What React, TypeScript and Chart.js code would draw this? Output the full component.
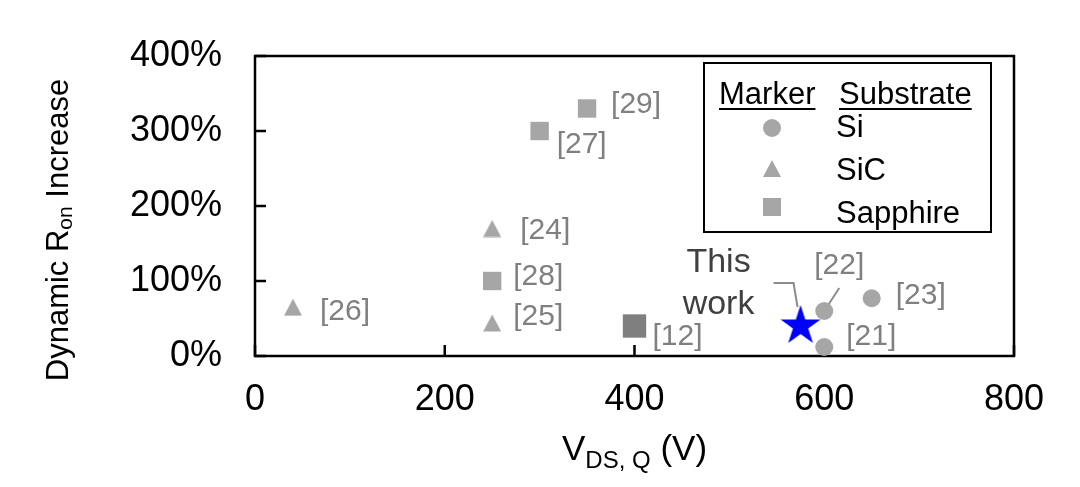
import { useEffect, useRef } from "react";
import Chart from "chart.js/auto";

// Si substrate (circles)
const siVoltage = [600, 600, 650];
const siIncrease = [60, 12, 77];
const siRefs = ["[22]", "[21]", "[23]"];

// SiC substrate (triangles)
const sicVoltage = [40, 250, 250];
const sicIncrease = [65, 170, 44];
const sicRefs = ["[26]", "[24]", "[25]"];

// Sapphire substrate (squares)
const sapphireVoltage = [250, 300, 350];
const sapphireIncrease = [100, 300, 330];
const sapphireRefs = ["[28]", "[27]", "[29]"];

// ref [12], darker square
const ref12Voltage = [400];
const ref12Increase = [40];
const ref12Refs = ["[12]"];

// this work (star)
const thisWorkVoltage = [575];
const thisWorkIncrease = [40];

const xTicks = [0, 200, 400, 600, 800];
const yTicks = [0, 100, 200, 300, 400];

const FONT = '"Liberation Sans", Arial, sans-serif';
const LABEL_GREY = "#808080";
const MARK_GREY = "#a6a6a6";

// where each reference label sits, in px from its marker
const labelOffsets: Record<string, [number, number]> = {
  "[26]": [27, 4],
  "[24]": [28, 2],
  "[25]": [21, -6],
  "[28]": [21, -4],
  "[27]": [17, 14],
  "[29]": [24, -4],
  "[12]": [18, 11],
  "[22]": [-10, -45],
  "[21]": [22, -10],
  "[23]": [24, -3],
};

const toPoints = (xs: number[], ys: number[]) => xs.map((x, i) => ({ x, y: ys[i] }));

const makeStar = () => {
  const c = document.createElement("canvas");
  c.width = 44;
  c.height = 44;
  const ctx = c.getContext("2d")!;
  const R = 21;
  const r = R * 0.382;
  ctx.beginPath();
  for (let i = 0; i < 10; i++) {
    const rad = (Math.PI / 5) * i - Math.PI / 2;
    const len = i % 2 === 0 ? R : r;
    const px = 22 + Math.cos(rad) * len;
    const py = 22 + Math.sin(rad) * len;
    if (i === 0) ctx.moveTo(px, py);
    else ctx.lineTo(px, py);
  }
  ctx.closePath();
  ctx.fillStyle = "#0000ff";
  ctx.fill();
  return c;
};

// triangle marker centred on its bounding box
const makeTriangle = () => {
  const c = document.createElement("canvas");
  c.width = 18;
  c.height = 18;
  const ctx = c.getContext("2d")!;
  ctx.beginPath();
  ctx.moveTo(9, 0.5);
  ctx.lineTo(18, 17.5);
  ctx.lineTo(0, 17.5);
  ctx.closePath();
  ctx.fillStyle = MARK_GREY;
  ctx.fill();
  return c;
};

const framePlugin = {
  id: "frame",
  beforeDatasetsDraw(chart: any) {
    const { ctx, chartArea: a, scales } = chart;
    ctx.save();
    ctx.strokeStyle = "#000";
    ctx.lineWidth = 2.5;
    ctx.strokeRect(a.left, a.top, a.right - a.left, a.bottom - a.top);
    // inward ticks
    ctx.beginPath();
    xTicks.forEach((v) => {
      const px = scales.x.getPixelForValue(v);
      ctx.moveTo(px, a.bottom);
      ctx.lineTo(px, a.bottom - 11);
    });
    yTicks.forEach((v) => {
      const py = scales.y.getPixelForValue(v);
      ctx.moveTo(a.left, py);
      ctx.lineTo(a.left + 11, py);
    });
    ctx.stroke();

    // leader lines
    ctx.strokeStyle = "#8c8c8c";
    ctx.lineWidth = 2;
    const starEl = chart.getDatasetMeta(4).data[0];
    ctx.beginPath();
    ctx.moveTo(starEl.x - 27, starEl.y - 43);
    ctx.lineTo(starEl.x - 7, starEl.y - 43);
    ctx.lineTo(starEl.x - 3, starEl.y - 19);
    ctx.stroke();
    const p22 = chart.getDatasetMeta(0).data[0];
    ctx.beginPath();
    ctx.moveTo(p22.x + 15, p22.y - 23);
    ctx.lineTo(p22.x + 2, p22.y - 3);
    ctx.stroke();
    ctx.restore();
  },
  afterDatasetsDraw(chart: any) {
    const { ctx, chartArea: a } = chart;
    ctx.save();

    // reference labels
    ctx.font = `30px ${FONT}`;
    ctx.fillStyle = LABEL_GREY;
    ctx.textAlign = "left";
    ctx.textBaseline = "middle";
    chart.data.datasets.forEach((ds: any, di: number) => {
      if (!ds.refs) return;
      const meta = chart.getDatasetMeta(di);
      ds.refs.forEach((ref: string, i: number) => {
        const el = meta.data[i];
        const [dx, dy] = labelOffsets[ref] || [20, 0];
        ctx.fillText(ref, el.x + dx, el.y + dy);
      });
    });

    // "This work"
    const starEl = chart.getDatasetMeta(4).data[0];
    ctx.font = `34px ${FONT}`;
    ctx.fillStyle = "#404040";
    ctx.textAlign = "center";
    ctx.fillText("This", starEl.x - 82, starEl.y - 63);
    ctx.fillText("work", starEl.x - 82, starEl.y - 21);

    // y axis title
    ctx.fillStyle = "#000";
    ctx.textAlign = "left";
    ctx.textBaseline = "alphabetic";
    const yParts: [string, number, number][] = [
      ["Dynamic R", 31, 0],
      ["on", 21, 4],
      [" Increase", 31, 0],
    ];
    ctx.save();
    ctx.translate(a.left - 187, a.top + 174);
    ctx.rotate(-Math.PI / 2);
    let total = 0;
    yParts.forEach(([t, s]) => {
      ctx.font = `${s}px ${FONT}`;
      total += ctx.measureText(t).width;
    });
    let cx = -total / 2;
    yParts.forEach(([t, s, off]) => {
      ctx.font = `${s}px ${FONT}`;
      ctx.fillText(t, cx, off);
      cx += ctx.measureText(t).width;
    });
    ctx.restore();

    // x axis title
    const xParts: [string, number, number][] = [
      ["V", 35, 0],
      ["DS, Q", 24, 8],
      [" (V)", 35, 0],
    ];
    total = 0;
    xParts.forEach(([t, s]) => {
      ctx.font = `${s}px ${FONT}`;
      total += ctx.measureText(t).width;
    });
    cx = (a.left + a.right) / 2 - total / 2;
    const base = a.bottom + 104;
    xParts.forEach(([t, s, off]) => {
      ctx.font = `${s}px ${FONT}`;
      ctx.fillText(t, cx, base + off);
      cx += ctx.measureText(t).width;
    });

    // legend box
    const lx = a.left + 449;
    const ly = a.top + 7;
    ctx.fillStyle = "#fff";
    ctx.fillRect(lx, ly, 287, 169);
    ctx.strokeStyle = "#000";
    ctx.lineWidth = 2;
    ctx.strokeRect(lx, ly, 287, 169);

    ctx.fillStyle = "#000";
    ctx.font = `31px ${FONT}`;
    ctx.fillText("Marker", lx + 15, ly + 41);
    ctx.fillText("Substrate", lx + 135, ly + 41);
    const w1 = ctx.measureText("Marker").width;
    const w2 = ctx.measureText("Substrate").width;
    ctx.fillRect(lx + 15, ly + 45, w1, 2);
    ctx.fillRect(lx + 135, ly + 45, w2, 2);
    ctx.fillText("Si", lx + 132, ly + 74);
    ctx.fillText("SiC", lx + 132, ly + 117);
    ctx.fillText("Sapphire", lx + 132, ly + 160);

    ctx.fillStyle = MARK_GREY;
    const mx = lx + 68;
    ctx.beginPath();
    ctx.arc(mx, ly + 65, 9, 0, Math.PI * 2);
    ctx.fill();
    ctx.beginPath();
    ctx.moveTo(mx, ly + 97);
    ctx.lineTo(mx + 9, ly + 114);
    ctx.lineTo(mx - 9, ly + 114);
    ctx.closePath();
    ctx.fill();
    ctx.fillRect(mx - 9, ly + 135, 18, 18);

    ctx.restore();
  },
};

const App = () => {
  const chartRef = useRef<HTMLCanvasElement | null>(null);

  useEffect(() => {
    document.body.style.margin = "0";
    if (!chartRef.current) return;

    const star = makeStar();
    const triangle = makeTriangle();

    const chart = new Chart(chartRef.current, {
      type: "scatter",
      data: {
        datasets: [
          {
            label: "Si",
            data: toPoints(siVoltage, siIncrease),
            refs: siRefs,
            pointStyle: "circle",
            pointRadius: 9,
            backgroundColor: MARK_GREY,
            borderWidth: 0,
            clip: false,
          } as any,
          {
            label: "SiC",
            data: toPoints(sicVoltage, sicIncrease),
            refs: sicRefs,
            pointStyle: triangle,
            pointRadius: 9,
            backgroundColor: MARK_GREY,
            borderWidth: 0,
            clip: false,
          },
          {
            label: "Sapphire",
            data: toPoints(sapphireVoltage, sapphireIncrease),
            refs: sapphireRefs,
            pointStyle: "rect",
            pointRadius: 13,
            backgroundColor: MARK_GREY,
            borderWidth: 0,
            clip: false,
          },
          {
            label: "[12]",
            data: toPoints(ref12Voltage, ref12Increase),
            refs: ref12Refs,
            pointStyle: "rect",
            pointRadius: 16.5,
            backgroundColor: "#7f7f7f",
            borderWidth: 0,
            clip: false,
          },
          {
            label: "This work",
            data: toPoints(thisWorkVoltage, thisWorkIncrease),
            pointStyle: star,
            pointRadius: 21,
            backgroundColor: "#0000ff",
            borderWidth: 0,
            clip: false,
          },
        ],
      },
      options: {
        animation: false,
        responsive: true,
        maintainAspectRatio: false,
        layout: { padding: { top: 56, right: 66, left: 0, bottom: 0 } },
        plugins: {
          legend: { display: false },
          tooltip: { enabled: false },
        },
        scales: {
          x: {
            type: "linear",
            min: 0,
            max: 800,
            grid: { display: false, drawTicks: false },
            border: { display: false },
            ticks: {
              stepSize: 200,
              padding: 22,
              color: "#000",
              font: { family: FONT, size: 36 },
            },
            afterFit: (scale: any) => {
              scale.height = 131;
            },
          },
          y: {
            min: 0,
            max: 400,
            grid: { display: false, drawTicks: false },
            border: { display: false },
            ticks: {
              stepSize: 100,
              padding: 33,
              color: "#000",
              font: { family: FONT, size: 36 },
              callback: (v: any) => `${v}%`,
            },
            afterFit: (scale: any) => {
              scale.width = 255;
            },
          },
        },
      },
      plugins: [framePlugin],
    } as any);

    return () => {
      chart.destroy();
    };
  }, []);

  return (
    <div style={{ width: 1080, height: 487, position: "relative" }}>
      <canvas ref={chartRef} />
    </div>
  );
};

export default App;
